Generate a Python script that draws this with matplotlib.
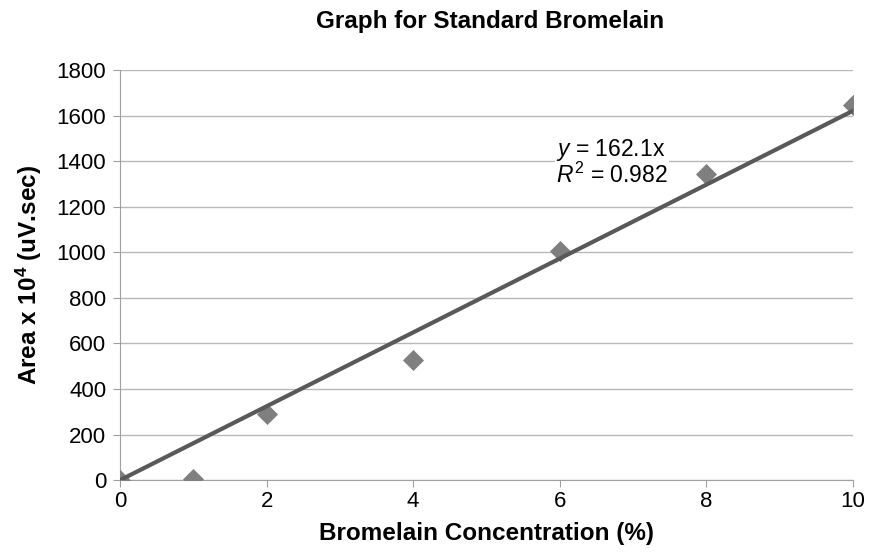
import matplotlib
matplotlib.use("Agg")
import matplotlib.pyplot as plt
import numpy as np

conc = [0, 1, 2, 4, 6, 8, 10]
area = [0, 5, 290, 527, 1006, 1345, 1648]
slope = 162.1
r2 = 0.982

plt.rcParams['font.family'] = ['Liberation Sans', 'DejaVu Sans']
plt.rcParams['mathtext.fontset'] = 'custom'
plt.rcParams['mathtext.rm'] = 'Liberation Sans'
plt.rcParams['mathtext.it'] = 'Liberation Sans:italic'
plt.rcParams['mathtext.bf'] = 'Liberation Sans:bold'

fig = plt.figure(figsize=(8.7, 5.57), dpi=100)
ax = fig.add_axes([0.138, 0.138, 0.842, 0.736])

ax.scatter(conc, area, marker='D', s=115, color='#7f7f7f', zorder=3, linewidths=0)
xs = np.array([0, 10])
ax.plot(xs, slope * xs, color='#595959', lw=3, zorder=4)

ax.set_xlim(0, 10)
ax.set_ylim(0, 1800)
ax.set_xticks(range(0, 11, 2))
ax.set_yticks(range(0, 1801, 200))
ax.yaxis.grid(True, color='#b8b8b8', lw=1)
ax.set_axisbelow(True)
for s in ['top', 'right']:
    ax.spines[s].set_visible(False)
for s in ['left', 'bottom']:
    ax.spines[s].set_color('#a0a0a0')
ax.tick_params(axis='both', labelsize=16, color='#a0a0a0', length=5)
ax.tick_params(axis='y', length=5, pad=5)
ax.tick_params(axis='x', pad=3)

ax.set_xlabel('Bromelain Concentration (%)', fontsize=17.5, fontweight='bold', labelpad=7)
ax.set_ylabel('Area x 10$^\\mathbf{4}$ (uV.sec)', fontsize=17.5, fontweight='bold', labelpad=9)
fig.text(0.563, 1 - 28 / 557, 'Graph for Standard Bromelain', fontsize=17.5,
         fontweight='bold', ha='center', va='baseline')

ax.text(5.95, 1395, '$y$ = %.1fx\n$R^2$ = %.3f' % (slope, r2), fontsize=16.5,
        linespacing=0.95, va='center', ha='left',
        bbox=dict(facecolor='white', edgecolor='none', pad=1))

fig.savefig('out.png', dpi=100)
